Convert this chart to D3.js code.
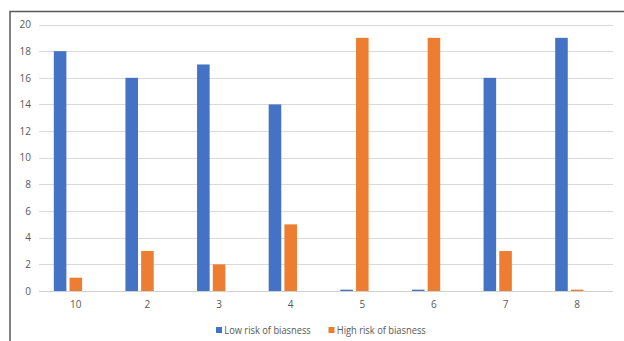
<!DOCTYPE html>
<html><head><meta charset="utf-8">
<script src="https://cdn.jsdelivr.net/npm/d3@7"></script>
<style>html,body{margin:0;padding:0;background:#fff;overflow:hidden}</style>
</head><body>
<svg id="c" width="624" height="341"></svg>
<script>
const categories = ["10","2","3","4","5","6","7","8"];
const lowRisk  = [18,16,17,14,0.1,0.1,16,19];
const highRisk = [1,3,2,5,19,19,3,0.1];
const seriesNames = ["Low risk of biasness","High risk of biasness"];
const seriesColors = ["#4472C4","#ED7D31"];
const yTicks = [0,2,4,6,8,10,12,14,16,18,20];

const svg = d3.select("#c");
const font = "'Open Sans', 'Liberation Sans', sans-serif";

// outer frame
svg.append("rect").attr("x",10).attr("y",11.5).attr("width",700).attr("height",400)
  .attr("fill","none").attr("stroke","#5a5a5a").attr("stroke-width",1.5);

const x = d3.scaleBand().domain(categories).range([40,613]).padding(0);
const y = d3.scaleLinear().domain([0,20]).range([291,24.5]);
// three slots per group (third slot is an empty series in the original)
const inner = d3.scaleBand().domain([0,1,2])
  .range([ (x.bandwidth()-44)/2, (x.bandwidth()+44)/2 ]).paddingInner(0.2);

// gridlines
svg.append("g").selectAll("line").data(yTicks).join("line")
  .attr("x1",39).attr("x2",613)
  .attr("y1",d=>Math.round(y(d))+0.5).attr("y2",d=>Math.round(y(d))+0.5)
  .attr("stroke",d=>d===0?"#d0d0d0":"#d9d9d9").attr("stroke-width",1);

// y axis labels
const yAxis = d3.axisLeft(y).tickValues(yTicks).tickSize(0).tickPadding(0);
const gy = svg.append("g").attr("transform","translate(31,0)").call(yAxis);
gy.select(".domain").remove();
gy.selectAll("text").attr("fill","#595959").style("font-family",font).style("font-size","10px");

// x axis labels
const xAxis = d3.axisBottom(x).tickSize(0).tickPadding(0);
const gx = svg.append("g").attr("transform","translate(0,301)").call(xAxis);
gx.select(".domain").remove();
gx.selectAll("text").attr("fill","#595959").style("font-family",font).style("font-size","10px");

// bars
const data = [lowRisk, highRisk];
data.forEach((vals,si)=>{
  svg.append("g").selectAll("rect").data(vals).join("rect")
    .attr("x",(d,i)=>x(categories[i])+inner(si))
    .attr("width",inner.bandwidth())
    .attr("y",d=>y(d))
    .attr("height",d=>y(0)-y(d))
    .attr("fill",seriesColors[si]);
});

// legend
const lg = svg.append("g");
const lx = [216,328.5];
const lw = [86.5,89];
seriesNames.forEach((n,i)=>{
  lg.append("rect").attr("x",lx[i]).attr("y",327).attr("width",6).attr("height",6).attr("fill",seriesColors[i]);
  lg.append("text").attr("x",lx[i]+8.3).attr("y",333.7).text(n)
    .attr("textLength",lw[i]).attr("lengthAdjust","spacingAndGlyphs")
    .attr("fill","#595959").style("font-family",font).style("font-size","10.5px");
});
</script>
</body></html>
